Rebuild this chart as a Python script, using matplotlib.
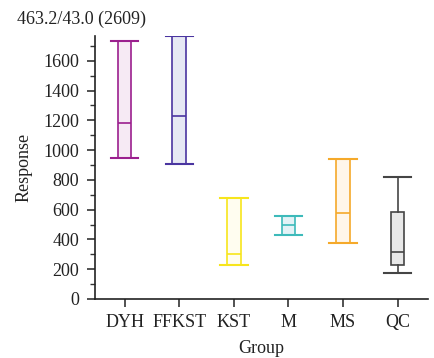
import matplotlib
matplotlib.use("Agg")
import matplotlib.pyplot as plt
from matplotlib.ticker import MultipleLocator

plt.rcParams['font.family'] = ['Liberation Serif', 'DejaVu Serif']

groups = ["DYH", "FFKST", "KST", "M", "MS", "QC"]
whislo = [945, 904, 225, 431, 377, 175]
q1 = [945, 904, 225, 431, 377, 225]
med = [1180, 1229, 299, 494, 579, 316]
q3 = [1736, 1766, 680, 557, 942, 583]
whishi = [1736, 1766, 680, 557, 942, 817]

edge_colors = ["#9b1f8e", "#4a35a0", "#f7e51c", "#3dbaba", "#f5a92a", "#454545"]
fill_colors = ["#f6eaf4", "#e6e8f4", "#fffdf0", "#e3f2f6", "#fff6ea", "#e8e8e8"]

fig = plt.figure(figsize=(4.34, 3.58), dpi=100)
ax = fig.add_axes([0.218, 0.165, 0.7675, 0.734])

for i, g in enumerate(groups):
    stats = [dict(label=g, whislo=whislo[i], q1=q1[i], med=med[i],
                  q3=q3[i], whishi=whishi[i], fliers=[])]
    c = edge_colors[i]
    ax.bxp(stats, positions=[i], widths=0.25, patch_artist=True,
           showfliers=False,
           boxprops=dict(facecolor=fill_colors[i], edgecolor=c, linewidth=1.2),
           medianprops=dict(color=c, linewidth=1.2),
           whiskerprops=dict(color=c, linewidth=1.2),
           capprops=dict(color=c, linewidth=1.5),
           capwidths=0.5)

ax.set_xlim(-0.55, 5.55)
ax.set_ylim(0, 1766)
ax.set_xticks(range(len(groups)))
ax.set_xticklabels(groups)
ax.yaxis.set_major_locator(MultipleLocator(200))
ax.yaxis.set_minor_locator(MultipleLocator(100))

for s in ["top", "right"]:
    ax.spines[s].set_visible(False)
for s in ["left", "bottom"]:
    ax.spines[s].set_color("#222222")
    ax.spines[s].set_linewidth(1.2)

ax.tick_params(axis="both", which="major", length=6, width=1.2,
               color="#333333", labelsize=13, labelcolor="#222222", pad=5)
ax.tick_params(axis="y", which="minor", length=3.5, width=1.0, color="#333333")

ax.set_xlabel("Group", fontsize=13, color="#222222", labelpad=6)
ax.set_ylabel("Response", fontsize=13, color="#222222", labelpad=8)

fig.text(17 / 434, 1 - 24 / 358, "463.2/43.0 (2609)", fontsize=13,
         color="#222222", ha="left", va="baseline")

fig.savefig("out.png", dpi=100)
